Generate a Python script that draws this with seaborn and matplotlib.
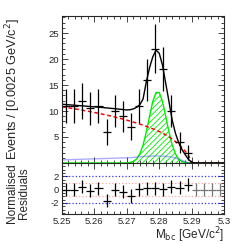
import numpy as np
import matplotlib
matplotlib.use("Agg")
import matplotlib.pyplot as plt
from matplotlib.ticker import MultipleLocator
import seaborn as sns

# binned data, 20 bins of 0.0025 GeV/c^2
bin_lo, bin_hi, bin_w = 5.25, 5.30, 0.0025
counts = [11, 11, 12, 10.5, 11, 6, 10, 9, 7, 11, 16, 22, 18, 10, 4, 2, 0, 0, 0, 0]
resid = [0.0, 0.0, 0.45, -0.15, 0.2, -1.65, 0.0, -0.3, -0.95, 0.05,
         0.2, 0.2, 0.05, 0.45, 0.3, 0.75, 0.0, 0.0, 0.0, 0.0]

# fit curves read every 0.001 GeV/c^2 from 5.25 to 5.30
mass = np.linspace(5.25, 5.30, 51)
total = [11.30, 11.25, 11.20, 11.15, 11.10, 11.05, 11.00, 10.95, 10.90, 10.85,
         10.80, 10.75, 10.70, 10.64, 10.58, 10.52, 10.46, 10.40, 10.33, 10.26,
         10.20, 10.25, 10.40, 10.70, 11.20, 12.30, 15.60, 18.30, 20.40, 21.70,
         21.10, 18.80, 15.30, 11.80, 8.20, 5.70, 3.90, 2.60, 1.60, 0.70,
         0.15, 0, 0, 0, 0, 0, 0, 0, 0, 0, 0]
comb_bkg = [10.80, 10.70, 10.61, 10.51, 10.40, 10.30, 10.19, 10.07, 9.96, 9.84,
            9.71, 9.59, 9.46, 9.32, 9.18, 9.04, 8.89, 8.73, 8.57, 8.41,
            8.24, 8.06, 7.87, 7.68, 7.48, 7.27, 7.05, 6.82, 6.58, 6.32,
            6.05, 5.76, 5.40, 5.02, 4.60, 4.12, 3.58, 2.97, 2.27, 1.50,
            0, 0, 0, 0, 0, 0, 0, 0, 0, 0, 0]
peak_bkg = [0.60, 0.62, 0.64, 0.66, 0.68, 0.70, 0.72, 0.74, 0.76, 0.78,
            0.80, 0.82, 0.84, 0.86, 0.88, 0.90, 0.92, 0.94, 0.96, 0.98,
            1.00, 1.03, 1.07, 1.12, 1.18, 1.24, 1.29, 1.33, 1.35, 1.35,
            1.34, 1.31, 1.27, 1.20, 1.10, 0.95, 0.75, 0.50, 0.25, 0.05,
            0, 0, 0, 0, 0, 0, 0, 0, 0, 0, 0]
signal = [0]*20 + [0.03, 0.10, 0.29, 0.76, 1.73, 3.44, 5.96, 8.99, 11.83, 13.56,
                   13.56, 11.83, 8.99, 5.96, 3.44, 1.73, 0.76, 0.29, 0.10, 0.03] + [0]*11

xtick_vals = [5.25, 5.26, 5.27, 5.28, 5.29, 5.30]
xtick_labels = ["5.25", "5.26", "5.27", "5.28", "5.29", "5.3"]

sns.set_style("ticks")
plt.rcParams["font.family"] = ["Liberation Sans", "DejaVu Sans"]
plt.rcParams["hatch.linewidth"] = 0.6

centers = bin_lo + bin_w * (np.arange(len(counts)) + 0.5)
counts = np.array(counts, dtype=float)
errs = np.sqrt(counts)

fig = plt.figure(figsize=(2.49, 2.44), dpi=100)
ax = fig.add_axes([0.249, 0.332, 0.651, 0.603])
axr = fig.add_axes([0.249, 0.123, 0.651, 0.209], sharex=ax)

# main panel
ax.fill_between(mass, 0, signal, facecolor="none", edgecolor="#00ee00",
                hatch="//////", linewidth=0)
sns.lineplot(x=mass, y=signal, ax=ax, color="#00ee00", lw=1.0)
sns.lineplot(x=mass, y=peak_bkg, ax=ax, color="#3333ff", lw=1.0, alpha=0.4)
sns.lineplot(x=mass, y=comb_bkg, ax=ax, color="#ff0000", lw=1.1, dashes=False,
             linestyle=(0, (2.5, 1.8)))
sns.lineplot(x=mass, y=total, ax=ax, color="black", lw=1.0)
ax.errorbar(centers, counts, yerr=errs, xerr=bin_w / 2, fmt="none",
            ecolor="black", elinewidth=0.9, capsize=0)

ax.set_xlim(bin_lo, bin_hi)
ax.set_ylim(0, 28.3)
ax.set_yticks([5, 10, 15, 20, 25])
ax.yaxis.set_minor_locator(MultipleLocator(1))
ax.xaxis.set_minor_locator(MultipleLocator(0.002))
ax.tick_params(labelbottom=False)
ax.set_ylabel("Events / [0.0025 GeV/c$^{2}$]", fontsize=9.2)
ax.yaxis.set_label_coords(-0.24, 0.5)

# residual panel
for lvl, col, a in [(2, "#0000ff", 0.8), (-2, "#0000ff", 0.8), (1, "#ff0000", 0.35), (-1, "#ff0000", 0.35)]:
    axr.axhline(lvl, color=col, ls=":", lw=0.9, alpha=a)
resid = np.array(resid)
filled = counts > 0
axr.errorbar(centers[filled], resid[filled], yerr=1.0, xerr=bin_w / 2, fmt="none",
             ecolor="black", elinewidth=0.9, capsize=0)
axr.errorbar(centers[~filled], resid[~filled], yerr=1.0, xerr=bin_w / 2, fmt="none",
             ecolor="#777777", elinewidth=0.9, capsize=0)
axr.set_ylim(-3.65, 4.0)
axr.set_yticks([-2, 0, 2])
axr.set_yticklabels(["-2", "0", "2"])
axr.yaxis.set_minor_locator(MultipleLocator(0.5))
axr.set_xticks(xtick_vals)
axr.set_xticklabels(xtick_labels)
axr.set_xlabel(r"M$_{\rm bc}$ [GeV/c$^{2}$]", fontsize=8.5, loc="right", labelpad=0)
axr.set_ylabel("Normalised\nResiduals", fontsize=8.5, linespacing=0.95)
axr.yaxis.set_label_coords(-0.20, 0.4)

for a in (ax, axr):
    a.tick_params(which="both", direction="in", top=True, right=True,
                  labelsize=6.8, width=0.6, pad=2)
    a.tick_params(which="major", length=4)
    a.tick_params(which="minor", length=2)
    for s in a.spines.values():
        s.set_linewidth(0.8)
    a.set_xlim(bin_lo, bin_hi)

fig.savefig("out.png", dpi=100)
